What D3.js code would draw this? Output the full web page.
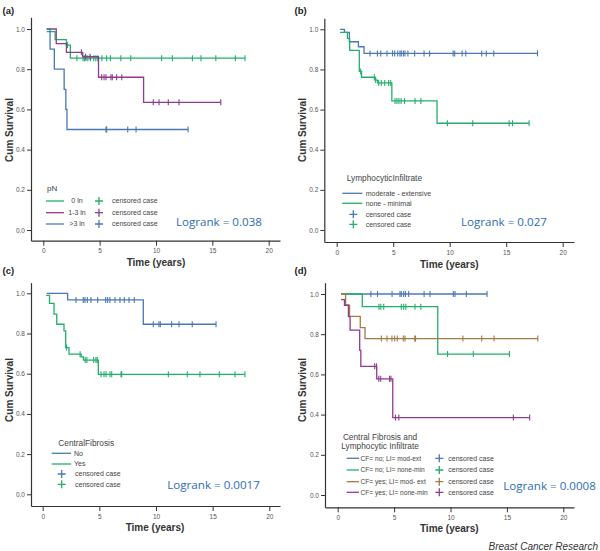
<!DOCTYPE html>
<html><head><meta charset="utf-8">
<script src="https://cdn.jsdelivr.net/npm/d3@7"></script>
<style>body{margin:0;background:#fff}</style></head><body>
<svg id="c" width="600" height="551"></svg>
<script>
// ---------- tick labels ----------
const xTicks = [0, 5, 10, 15, 20];
const yTicks = [0, 0.2, 0.4, 0.6, 0.8, 1.0];

// ---------- panel (a) pN ----------
const a0ln_steps = [[0.3,0.987],[1.05,0.947],[2.05,0.92],[2.4,0.855]];
const a0ln_cens = [2.15,2.98,3.52,3.65,3.79,3.95,4.18,4.48,4.66,4.83,5.2,5.62,5.95,6.88,7.76,10.5,11.45,13.23,13.99,15.31,17.04,17.9];
const a13ln_steps = [[0.3,1.0],[1.15,0.927],[2.05,0.884],[3.5,0.862],[4.9,0.76],[8.9,0.635]];
const a13ln_cens = [3.38,3.75,4.15,5.18,5.39,5.56,6.0,6.12,6.51,6.96,9.76,10.27,11.09,12.04,15.75];
const a3ln_steps = [[0.3,1.0],[0.6,0.9],[0.98,0.8],[1.85,0.7],[2.0,0.6],[2.1,0.5]];
const a3ln_cens = [5.56,5.62,7.49,8.23,12.85];

// ---------- panel (b) LymphocyticInfiltrate ----------
const bMod_steps = [[0.3,1.0],[0.68,0.985],[1.12,0.938],[1.92,0.913],[2.42,0.88]];
const bMod_cens = [2.95,3.6,3.9,4.45,4.94,5.13,5.4,5.6,5.72,5.9,6.04,6.3,6.9,7.73,8.22,10.3,10.44,11.1,11.42,12.83,13.24,13.9,17.77];
const bNone_steps = [[0.3,0.985],[0.95,0.955],[1.15,0.895],[2.0,0.79],[2.2,0.761],[3.4,0.747],[3.62,0.733],[4.88,0.643],[8.88,0.532]];
const bNone_cens = [2.12,3.33,3.45,3.72,3.95,4.25,4.6,4.78,5.16,5.33,5.51,5.7,6.0,6.93,7.45,9.8,12.04,15.26,15.56,17.03];

// ---------- panel (c) CentralFibrosis ----------
const cNo_steps = [[0.35,1.0],[2.2,0.967],[8.88,0.846]];
const cNo_cens = [2.94,3.58,3.73,3.94,4.26,4.85,5.56,5.73,5.93,6.38,6.82,7.2,7.62,8.08,9.76,10.26,10.38,11.38,12.03,13.2,15.3];
const cYes_steps = [[0.3,0.99],[0.6,0.95],[1.0,0.896],[1.24,0.846],[1.88,0.813],[2.03,0.73],[2.32,0.697],[3.4,0.684],[3.6,0.668],[4.91,0.597]];
const cYes_cens = [2.1,3.3,3.75,3.9,4.5,4.7,4.82,5.15,5.41,5.59,5.94,6.09,6.91,6.97,11.09,12.76,13.88,15.59,16.97,17.85];

// ---------- panel (d) CF and LI ----------
const dNoMod_steps = [[0.3,1.0]];
const dNoMod_cens = [2.94,3.53,4.82,5.52,5.64,5.85,6.0,6.29,7.66,8.18,10.25,10.4,11.4,13.24];
const dNoNone_steps = [[0.35,1.0],[2.18,0.937],[8.87,0.701]];
const dNoNone_cens = [3.66,3.82,4.08,5.64,5.85,6.04,6.85,7.37,9.74,12.02,15.22];
const dYesMod_steps = [[0.3,1.0],[0.7,0.944],[1.05,0.889],[2.0,0.833],[2.42,0.778]];
const dYesMod_cens = [3.87,4.37,4.81,5.05,5.28,5.82,5.97,6.83,6.9,11.1,12.77,13.86,17.74];
const dYesNone_steps = [[0.3,0.972],[0.6,0.944],[0.95,0.887],[1.1,0.82],[1.95,0.72],[2.05,0.64],[3.46,0.578],[4.88,0.385]];
const dYesNone_cens = [3.28,3.44,3.64,3.81,4.6,4.72,5.12,5.42,15.57,17.02];

// ---------- labels ----------
const logranks = ["Logrank = 0.038","Logrank = 0.027","Logrank = 0.0017","Logrank = 0.0008"];
const panelLabels = ["(a)","(b)","(c)","(d)"];

const COL = {blue:'#4a78b5', green:'#20b06a', purple:'#8f3b8f', brown:'#a57b42'};
const FONT = '"Liberation Sans", Arial, sans-serif';
const svg = d3.select('#c');

const panels = [
 { lab:[2.5,14], axX:31, axY:240.7, top:17.3, right:280, x0:43.3, x20:268.7, y0:230, y1:29,
   xt:[156,266], yt:[9,130], lr:[176,225.5],
   series:[
     {steps:a0ln_steps, cens:a0ln_cens, c:COL.green, name:'0 ln'},
     {steps:a13ln_steps, cens:a13ln_cens, c:COL.purple, name:'1-3 ln'},
     {steps:a3ln_steps, cens:a3ln_cens, c:COL.blue, name:'>3 ln'}],
   legend: g => {
     text(g, 47, 191, 'pN', 8, 'start', '#444');
     const rows=[201,212.7,224];
     panels[0].series.forEach((s,i)=>{
       line(g,46,64,rows[i],s.c);
       text(g,77,rows[i]+2.3,s.name,7,'middle','#444');
       cross(g,99,rows[i],s.c);
       text(g,112,rows[i]+2.3,'censored case',7,'start','#444');
     });
   }},
 { lab:[294.5,14], axX:324.3, axY:242, top:18.3, right:574, x0:336.7, x20:562.7, y0:230, y1:29.3,
   xt:[449.3,267.5], yt:[302,130], lr:[461,225.5],
   series:[
     {steps:bMod_steps, cens:bMod_cens, c:COL.blue, name:'moderate - extensive'},
     {steps:bNone_steps, cens:bNone_cens, c:COL.green, name:'none - minimal'}],
   legend: g => {
     text(g, 346.7, 181, 'LymphocyticInfiltrate', 8.3, 'start', '#444');
     const rows=[193.3,203.3];
     panels[1].series.forEach((s,i)=>{
       line(g,342.3,362.3,rows[i],s.c);
       text(g,365.7,rows[i]+2.3,s.name,7,'start','#444');
     });
     const crows=[214.3,224.3];
     panels[1].series.forEach((s,i)=>{
       cross(g,353.3,crows[i],s.c);
       text(g,365.7,crows[i]+2.3,'censored case',7,'start','#444');
     });
   }},
 { lab:[2.5,274], axX:31, axY:506, top:282.7, right:280, x0:42.7, x20:269.3, y0:494.3, y1:293.3,
   xt:[155,531], yt:[9,390], lr:[167.3,488.5],
   series:[
     {steps:cNo_steps, cens:cNo_cens, c:COL.blue, name:'No'},
     {steps:cYes_steps, cens:cYes_cens, c:COL.green, name:'Yes'}],
   legend: g => {
     text(g, 58.3, 445.8, 'CentralFibrosis', 8.3, 'start', '#444');
     const rows=[453.3,464];
     panels[2].series.forEach((s,i)=>{
       line(g,51.7,71,rows[i],s.c);
       text(g,74,rows[i]+2.3,s.name,7,'start','#444');
     });
     const crows=[474,484.3];
     panels[2].series.forEach((s,i)=>{
       cross(g,61.7,crows[i],s.c);
       text(g,75,crows[i]+2.3,'censored case',7,'start','#444');
     });
   }},
 { lab:[294.5,274], axX:325, axY:507.3, top:282.7, right:574, x0:337.7, x20:563.3, y0:495, y1:294,
   xt:[449.3,531.5], yt:[302,390], lr:[503.3,489.5],
   series:[
     {steps:dNoMod_steps, cens:dNoMod_cens, c:COL.blue, name:'CF= no; LI= mod-ext'},
     {steps:dNoNone_steps, cens:dNoNone_cens, c:COL.green, name:'CF= no; LI= none-min'},
     {steps:dYesMod_steps, cens:dYesMod_cens, c:COL.brown, name:'CF= yes; LI= mod- ext'},
     {steps:dYesNone_steps, cens:dYesNone_cens, c:COL.purple, name:'CF= yes; LI= none-min'}],
   legend: g => {
     text(g, 380, 439.7, 'Central Fibrosis and', 8.3, 'middle', '#444');
     text(g, 380, 449.2, 'Lymphocytic Infiltrate', 8.3, 'middle', '#444');
     const rows=[458.3,470,481.7,492.3];
     panels[3].series.forEach((s,i)=>{
       line(g,346.7,359,rows[i],s.c);
       text(g,360.5,rows[i]+2.3,s.name,6.6,'start','#444');
       cross(g,439.3,rows[i],s.c);
       text(g,448.3,rows[i]+2.3,'censored case',7,'start','#444');
     });
   }}
];

function text(g,x,y,t,size,anchor,fill,weight,family){
  return g.append('text').attr('x',x).attr('y',y).text(t)
    .attr('font-size',size).attr('text-anchor',anchor||'start')
    .attr('fill',fill||'#333').attr('font-weight',weight||'normal')
    .attr('font-family',family||FONT);
}
function line(g,x1,x2,y,c){
  g.append('line').attr('x1',x1).attr('x2',x2).attr('y1',y).attr('y2',y)
   .attr('stroke',c).attr('stroke-width',1.3);
}
function cross(g,x,y,c){
  g.append('path').attr('d',`M${x-4},${y}H${x+4}M${x},${y-4}V${y+4}`)
   .attr('stroke',c).attr('stroke-width',1.3).attr('fill','none');
}
function levelAt(steps,t){
  let v=steps[0][1];
  for(const s of steps){ if(s[0]<=t) v=s[1]; }
  return v;
}

panels.forEach((p,pi)=>{
  const g = svg.append('g');
  const x = d3.scaleLinear().domain([0,20]).range([p.x0,p.x20]);
  const y = d3.scaleLinear().domain([0,1]).range([p.y0,p.y1]);
  const xe = d3.scaleLinear().domain([x.invert(p.axX), x.invert(p.right)]).range([p.axX,p.right]);
  const ye = d3.scaleLinear().domain([y.invert(p.axY), y.invert(p.top)]).range([p.axY,p.top]);

  const gx = g.append('g').attr('transform',`translate(0,${p.axY})`)
    .call(d3.axisBottom(xe).tickValues(xTicks).tickSize(5).tickSizeOuter(0).tickPadding(3).tickFormat(d3.format('d')));
  const gy = g.append('g').attr('transform',`translate(${p.axX},0)`)
    .call(d3.axisLeft(ye).tickValues(yTicks).tickSize(4).tickSizeOuter(0).tickPadding(2).tickFormat(d3.format('.1f')));
  [gx,gy].forEach(a=>{
    a.selectAll('path.domain').attr('stroke','#333').attr('stroke-width',1.2);
    a.selectAll('.tick line').attr('stroke','#333').attr('stroke-width',1);
    a.selectAll('.tick text').attr('font-size',6.5).attr('font-family',FONT).attr('fill','#555');
  });

  // axis titles
  text(g,p.xt[0],p.xt[1],'Time (years)',10,'middle','#333','bold');
  g.append('text').attr('transform',`translate(${p.yt[0]+3.5},${p.yt[1]}) rotate(-90)`)
    .attr('text-anchor','middle').attr('font-size',10).attr('font-weight','bold')
    .attr('font-family',FONT).attr('fill','#333').text('Cum Survival');
  text(g,p.lab[0],p.lab[1],panelLabels[pi],9.5,'start','#222','bold');

  // curves
  const ln = d3.line().x(d=>x(d[0])).y(d=>y(d[1])).curve(d3.curveStepAfter);
  p.series.forEach(s=>{
    const end = Math.max(s.steps[s.steps.length-1][0], d3.max(s.cens));
    const pts = s.steps.concat([[end, s.steps[s.steps.length-1][1]]]);
    g.append('path').attr('d',ln(pts)).attr('fill','none').attr('stroke',s.c).attr('stroke-width',1.3);
    g.selectAll(null).data(s.cens).enter().append('line')
      .attr('x1',d=>x(d)).attr('x2',d=>x(d))
      .attr('y1',d=>y(levelAt(s.steps,d))-3).attr('y2',d=>y(levelAt(s.steps,d))+3)
      .attr('stroke',s.c).attr('stroke-width',1.1);
  });

  p.legend(g);
  text(g,p.lr[0],p.lr[1],logranks[pi],11.6,'start','#2e6cb2','normal','"Open Sans", "Noto Sans", sans-serif');
});

text(svg,598,550,'Breast Cancer Research',10,'end','#333').attr('font-style','italic');
</script>
</body></html>
